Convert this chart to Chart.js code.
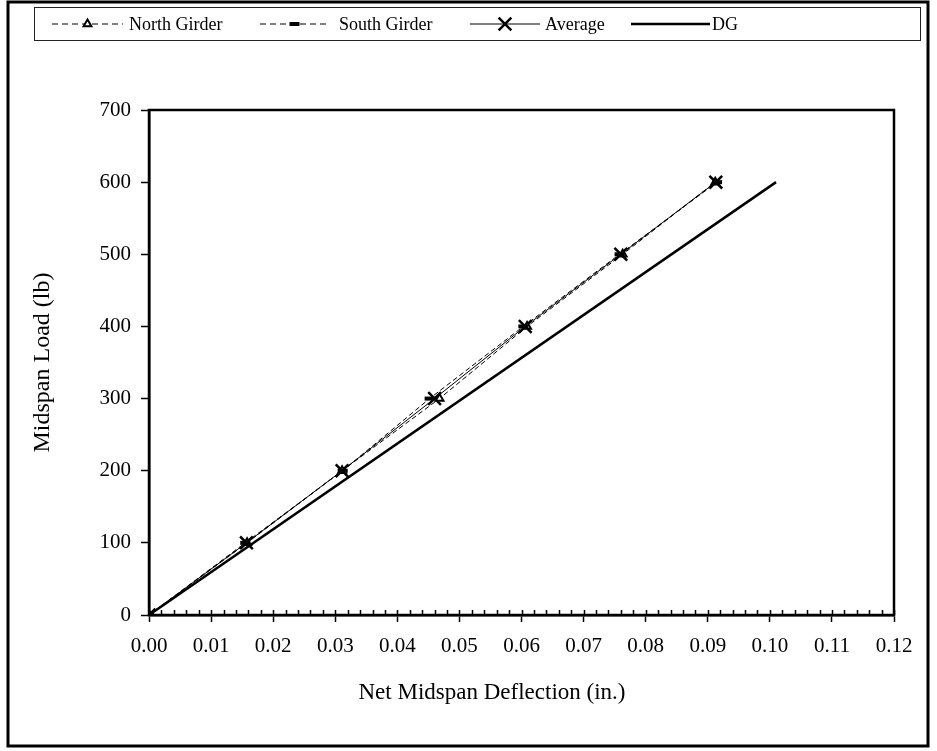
<!DOCTYPE html>
<html>
<head>
<meta charset="utf-8">
<script src="https://cdn.jsdelivr.net/npm/chart.js@4.4.0/dist/chart.umd.min.js"></script>
<style>
  html, body { margin: 0; padding: 0; background: #fff; }
  #wrap { width: 937px; height: 751px; }
</style>
</head>
<body>
<div id="wrap"><canvas id="deflChart" width="937" height="751"></canvas></div>
<script>
// load steps (lb) and measured midspan deflections (in.)
const loads = [0, 100, 200, 300, 400, 500, 600];
const northDefl = [0, 0.0158, 0.0311, 0.0468, 0.0609, 0.0763, 0.0912];
const southDefl = [0, 0.0155, 0.0312, 0.0452, 0.0603, 0.0758, 0.0915];
const avgDefl = [0, 0.0157, 0.0311, 0.0460, 0.0606, 0.0760, 0.0913];
// design (DG) prediction
const dgLoads = [0, 600];
const dgDefl = [0, 0.101];

const xTicks = [0, 0.01, 0.02, 0.03, 0.04, 0.05, 0.06, 0.07, 0.08, 0.09, 0.10, 0.11, 0.12];
const yTicks = [0, 100, 200, 300, 400, 500, 600, 700];
const seriesNames = ['North Girder', 'South Girder', 'Average', 'DG'];

const serif = "'Liberation Serif', 'Times New Roman', serif";

// legend layout: where each sample line starts and how long it is
const legendStarts = [52, 260, 470, 631];
const legendSample = [71, 69, 70, 79];
const legendTextGap = [6, 10, 5, 2];

function pts(xs, ys) {
  return xs.map((x, i) => ({ x: x, y: ys[i] }));
}

// draws one marker the same way in the legend as in the plot
function drawMarker(ctx, style, x, y, r, lw) {
  ctx.save();
  ctx.strokeStyle = '#000';
  ctx.fillStyle = '#fff';
  ctx.lineWidth = lw;
  ctx.setLineDash([]);
  ctx.beginPath();
  if (style === 'triangle') {
    ctx.moveTo(x, y - r);
    ctx.lineTo(x + r * 0.87, y + r * 0.5);
    ctx.lineTo(x - r * 0.87, y + r * 0.5);
    ctx.closePath();
    ctx.fill();
    ctx.stroke();
  } else if (style === 'line') {
    ctx.moveTo(x - r, y);
    ctx.lineTo(x + r, y);
    ctx.stroke();
  } else if (style === 'crossRot') {
    const d = r * 0.7071;
    ctx.moveTo(x - d, y - d);
    ctx.lineTo(x + d, y + d);
    ctx.moveTo(x + d, y - d);
    ctx.lineTo(x - d, y + d);
    ctx.stroke();
  }
  ctx.restore();
}

const frameAndLegend = {
  id: 'frameAndLegend',
  beforeDraw(chart) {
    const ctx = chart.ctx;
    ctx.save();
    ctx.fillStyle = '#fff';
    ctx.fillRect(0, 0, chart.width, chart.height);
    ctx.restore();
  },
  afterDraw(chart) {
    const ctx = chart.ctx;
    const area = chart.chartArea;
    const xs = chart.scales.x;
    ctx.save();

    // plot box
    ctx.strokeStyle = '#000';
    ctx.lineWidth = 2.5;
    ctx.strokeRect(area.left, area.top, area.right - area.left, area.bottom - area.top);

    // minor ticks inside the x axis
    ctx.lineWidth = 1.5;
    ctx.beginPath();
    for (let i = 0; i <= 60; i++) {
      const px = Math.round(xs.getPixelForValue(i * 0.002)) + 0.5;
      ctx.moveTo(px, area.bottom);
      ctx.lineTo(px, area.bottom - 5);
    }
    ctx.stroke();

    // x axis title
    ctx.fillStyle = '#000';
    ctx.font = '23px ' + serif;
    ctx.textAlign = 'center';
    ctx.textBaseline = 'middle';
    ctx.fillText('Net Midspan Deflection (in.)', 492, 693);

    // outer frame
    ctx.lineWidth = 3;
    ctx.strokeRect(8, 2, 920, 744);

    // legend box
    ctx.lineWidth = 1;
    ctx.strokeStyle = '#222';
    ctx.strokeRect(34.5, 7.5, 886, 33);

    // legend entries
    ctx.font = '18px ' + serif;
    ctx.textAlign = 'left';
    ctx.textBaseline = 'middle';
    const ly = 24;
    chart.data.datasets.forEach((ds, i) => {
      const lx = legendStarts[i];
      const sample = legendSample[i];
      ctx.strokeStyle = '#000';
      ctx.lineWidth = ds.borderWidth;
      ctx.setLineDash(ds.borderDash ? [6, 4] : []);
      ctx.beginPath();
      ctx.moveTo(lx, ly);
      ctx.lineTo(lx + sample, ly);
      ctx.stroke();
      ctx.setLineDash([]);
      if (ds.pointRadius > 0) {
        drawMarker(ctx, ds.pointStyle, lx + sample / 2, ly, ds.pointRadius, ds.pointBorderWidth);
      }
      ctx.fillText(ds.label, lx + sample + legendTextGap[i], ly + 1);
    });
    ctx.restore();
  }
};

new Chart(document.getElementById('deflChart'), {
  type: 'scatter',
  data: {
    datasets: [
      {
        label: seriesNames[0],
        data: pts(northDefl, loads),
        showLine: true,
        borderColor: '#000',
        borderWidth: 1,
        borderDash: [5, 3],
        pointStyle: 'triangle',
        pointRadius: 4.5,
        pointBorderWidth: 2,
        pointBackgroundColor: '#fff',
        pointBorderColor: '#000',
        order: 2
      },
      {
        label: seriesNames[1],
        data: pts(southDefl, loads),
        showLine: true,
        borderColor: '#000',
        borderWidth: 1,
        borderDash: [5, 3],
        pointStyle: 'line',
        pointRadius: 5,
        pointBorderWidth: 4,
        pointBorderColor: '#000',
        order: 1
      },
      {
        label: seriesNames[2],
        data: pts(avgDefl, loads),
        showLine: true,
        borderColor: '#000',
        borderWidth: 1,
        pointStyle: 'crossRot',
        pointRadius: 9,
        pointBorderWidth: 2.5,
        pointBorderColor: '#000',
        order: 3
      },
      {
        label: seriesNames[3],
        data: pts(dgDefl, dgLoads),
        showLine: true,
        borderColor: '#000',
        borderWidth: 2.5,
        pointRadius: 0,
        pointBorderWidth: 0,
        order: 4
      }
    ]
  },
  options: {
    responsive: false,
    animation: false,
    events: [],
    layout: { padding: { left: 10, right: 43, top: 110, bottom: 10 } },
    plugins: {
      legend: { display: false },
      tooltip: { enabled: false }
    },
    scales: {
      x: {
        type: 'linear',
        min: 0,
        max: 0.12,
        afterBuildTicks: (scale) => { scale.ticks = xTicks.map(v => ({ value: v })); },
        afterFit: (scale) => { scale.height = 126; },
        border: { color: '#000', width: 2.5 },
        grid: { drawOnChartArea: false, drawTicks: true, tickLength: 7, color: '#000', tickWidth: 1.5 },
        ticks: {
          color: '#000',
          padding: 12,
          maxRotation: 0,
          font: { family: serif, size: 21 },
          callback: (v) => Number(v).toFixed(2)
        }
      },
      y: {
        type: 'linear',
        min: 0,
        max: 700,
        afterBuildTicks: (scale) => { scale.ticks = yTicks.map(v => ({ value: v })); },
        afterFit: (scale) => { scale.width = 139; },
        border: { color: '#000', width: 2.5 },
        grid: { drawOnChartArea: false, drawTicks: true, tickLength: 8, color: '#000', tickWidth: 1.5 },
        ticks: {
          color: '#000',
          padding: 10,
          font: { family: serif, size: 21 }
        },
        title: {
          display: true,
          text: 'Midspan Load (lb)',
          color: '#000',
          font: { family: serif, size: 24 },
          padding: { top: 18, bottom: 0 }
        }
      }
    }
  },
  plugins: [frameAndLegend]
});
</script>
</body>
</html>
